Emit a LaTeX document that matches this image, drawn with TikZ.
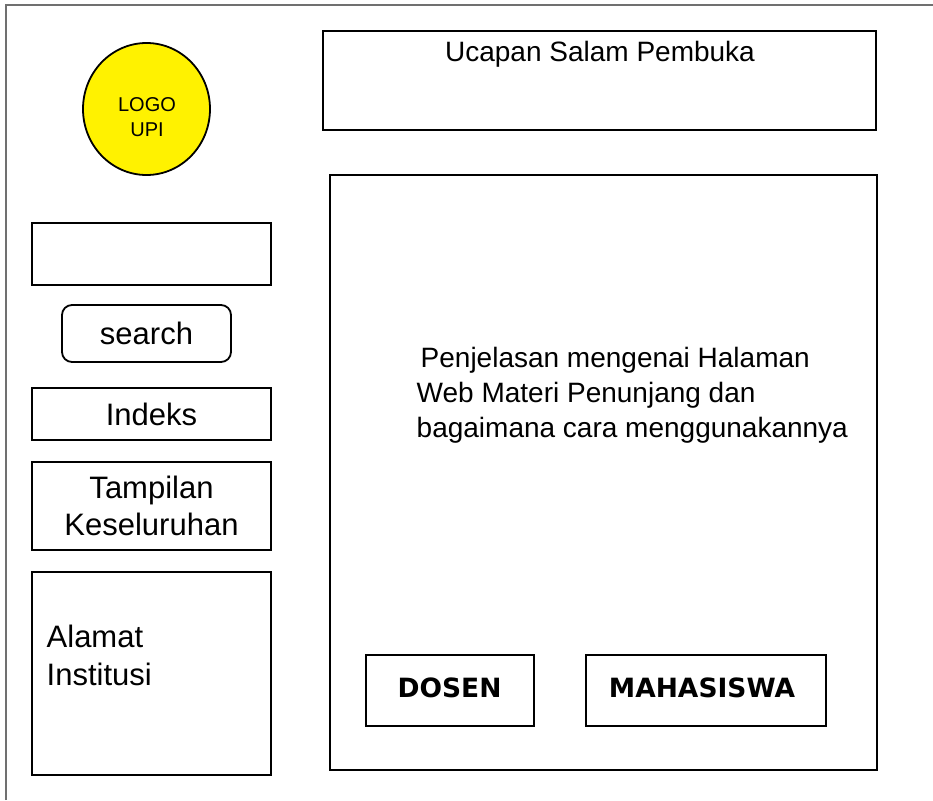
\documentclass[tikz,border=0pt]{standalone}
\usepackage{fontspec}
\setmainfont{Liberation Sans}
\newfontfamily\dejavu{DejaVu Sans}
\usetikzlibrary{shapes.geometric}
\definecolor{framegray}{HTML}{707070}
\begin{document}
\begin{tikzpicture}[x=1pt,y=-1pt,
  box/.style={draw=black, line width=1.8pt, inner sep=0pt, fill=white},
  txt/.style={inner sep=0pt, text=black},
  lefttxt/.style={txt, font=\fontsize{31}{37}\selectfont},
  btntxt/.style={txt, font=\dejavu\bfseries\fontsize{26.5}{32}\selectfont}]
\useasboundingbox (0,0) rectangle (933,800);
\fill[white] (0,0) rectangle (933,800);
% outer frame (only left and top edges visible)
\draw[framegray, line width=2.5pt] (6,800) -- (6,5) -- (933,5);
% logo
\node[ellipse, draw=black, line width=1.8pt, fill=yellow, minimum width=127, minimum height=132, inner sep=0pt] (logo) at (146.5,109) {};
\node[txt, align=center, font=\fontsize{20}{25}\selectfont] (logotext) at (147,117) {LOGO\\UPI};
% header greeting
\node[box, minimum width=553, minimum height=99] (salam) at (599.5,80.5) {};
\node[txt, anchor=base, font=\fontsize{28}{34}\selectfont] (salamtext) at (600,62) {Ucapan Salam Pembuka};
% main content
\node[box, minimum width=547, minimum height=595] (main) at (603.5,472.5) {};
\node[txt, anchor=north west, align=left, font=\fontsize{28}{35}\selectfont] (penjelasan) at (416.5,347.5)
  {\hspace*{4pt}Penjelasan mengenai Halaman\\Web Materi Penunjang dan\\bagaimana cara menggunakannya};
% left column
\node[box, minimum width=239, minimum height=62] (input) at (151.5,254) {};
\node[box, rounded corners=10pt, minimum width=169, minimum height=57, lefttxt] (search) at (146.5,333.5) {search};
\node[box, minimum width=239, minimum height=52, lefttxt] (indeks) at (151.5,414) {Indeks};
\node[box, minimum width=239, minimum height=88, lefttxt, align=center] (tampilan) at (151.5,506) {Tampilan\\Keseluruhan};
\node[box, minimum width=239, minimum height=203] (alamat) at (151.5,673.5) {};
\node[txt, anchor=north west, align=left, font=\fontsize{31}{38}\selectfont] (alamattext) at (46.5,624.5) {Alamat\\Institusi};
% buttons
\node[box, minimum width=168, minimum height=71] (dosen) at (450,690.5) {};
\node[btntxt, anchor=base] (dosentext) at (449.5,697) {DOSEN};
\node[box, minimum width=240, minimum height=71] (mhs) at (706,690.5) {};
\node[btntxt, anchor=base] (mhstext) at (702,697) {MAHASISWA};
\end{tikzpicture}
\end{document}
